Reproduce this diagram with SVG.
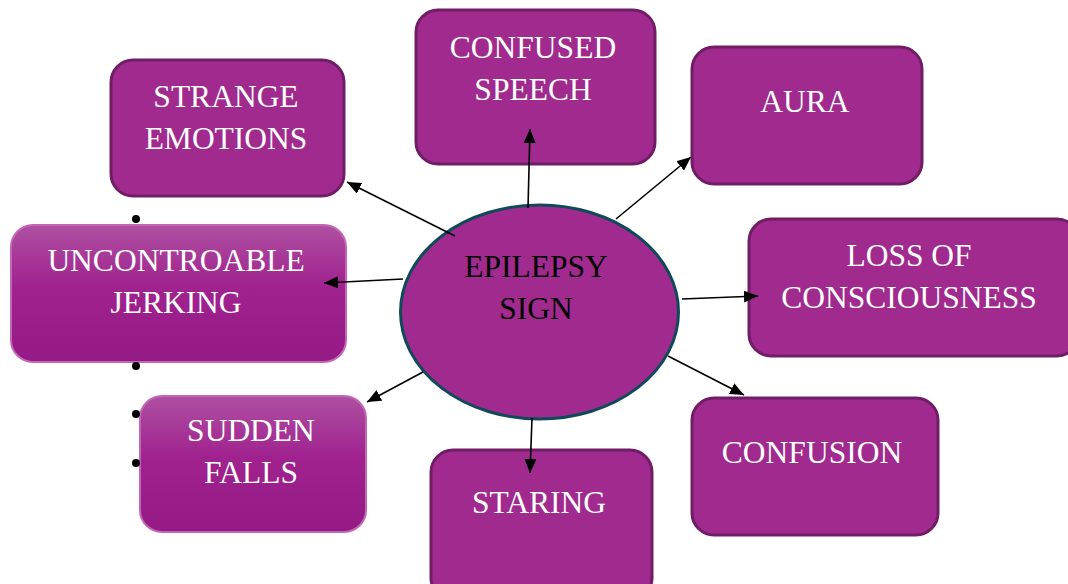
<svg xmlns="http://www.w3.org/2000/svg" width="1068" height="584" viewBox="0 0 1068 584">
<defs>
<style>
.box{fill:#a02a8e;stroke:#701d66;stroke-width:3}
.gbox{fill:url(#g);stroke:#c466b8;stroke-width:2}
.t{font-family:"Liberation Serif","Times New Roman",serif;font-size:31.5px;fill:#ffffff;text-anchor:middle}
.tb{font-family:"Liberation Serif","Times New Roman",serif;font-size:31.5px;fill:#000000;text-anchor:middle}
.c line{stroke:#000;stroke-width:1.6;marker-end:url(#ah)}
</style>
<linearGradient id="g" x1="0" y1="0" x2="0" y2="1">
<stop offset="0" stop-color="#ae50a1"/>
<stop offset="0.45" stop-color="#a0228f"/>
<stop offset="1" stop-color="#941a85"/>
</linearGradient>
<marker id="ah" viewBox="0 0 14 12" refX="14" refY="6" markerWidth="14" markerHeight="12" markerUnits="userSpaceOnUse" orient="auto">
<path d="M0,0 L14,6 L0,12 z" fill="#000"/>
</marker>
</defs>
<rect width="1068" height="584" fill="#ffffff"/>
<g id="strange-emotions">
<rect class="box" x="111" y="60" width="233" height="136" rx="22"/>
<text class="t" x="226" y="107">STRANGE</text>
<text class="t" x="226" y="149">EMOTIONS</text>
</g>
<g id="confused-speech">
<rect class="box" x="416" y="10" width="239" height="154" rx="22"/>
<text class="t" x="533" y="58">CONFUSED</text>
<text class="t" x="533" y="100">SPEECH</text>
</g>
<g id="aura">
<rect class="box" x="692" y="47" width="230" height="137" rx="22"/>
<text class="t" x="805" y="112">AURA</text>
</g>
<g id="loss-of-consciousness">
<rect class="box" x="749" y="219" width="330" height="137" rx="22"/>
<text class="t" x="909" y="266">LOSS OF</text>
<text class="t" x="909" y="308">CONSCIOUSNESS</text>
</g>
<g id="confusion">
<rect class="box" x="692" y="398" width="246" height="137" rx="22"/>
<text class="t" x="812" y="463">CONFUSION</text>
</g>
<g id="staring">
<rect class="box" x="431" y="450" width="221" height="150" rx="22"/>
<text class="t" x="539" y="513">STARING</text>
</g>
<g id="sudden-falls">
<rect class="gbox" x="140" y="396" width="226" height="136" rx="22"/>
<text class="t" x="251" y="441">SUDDEN</text>
<text class="t" x="251" y="483">FALLS</text>
</g>
<g id="uncontroable-jerking">
<rect class="gbox" x="11" y="225" width="335" height="137" rx="22"/>
<text class="t" x="176" y="271">UNCONTROABLE</text>
<text class="t" x="176" y="313">JERKING</text>
</g>
<g id="epilepsy-sign">
<ellipse cx="539.5" cy="312" rx="139" ry="107" fill="#a02a8e" stroke="#0f4a5a" stroke-width="3"/>
<text class="tb" x="536" y="277">EPILEPSY</text>
<text class="tb" x="536" y="319">SIGN</text>
</g>
<g id="bullets" fill="#000">
<circle cx="136" cy="219" r="4"/>
<circle cx="136" cy="366" r="4"/>
<circle cx="136" cy="414" r="4"/>
<circle cx="136" cy="463" r="4"/>
</g>
<g id="connectors" class="c">
<line x1="455" y1="236" x2="347" y2="182"/>
<line x1="528" y1="208" x2="530" y2="129"/>
<line x1="616" y1="219" x2="691" y2="157"/>
<line x1="682" y1="299" x2="758" y2="296"/>
<line x1="668" y1="356" x2="744" y2="395"/>
<line x1="532" y1="418" x2="530" y2="473"/>
<line x1="423" y1="372" x2="367" y2="402"/>
<line x1="403" y1="279" x2="324" y2="283"/>
</g>
</svg>
